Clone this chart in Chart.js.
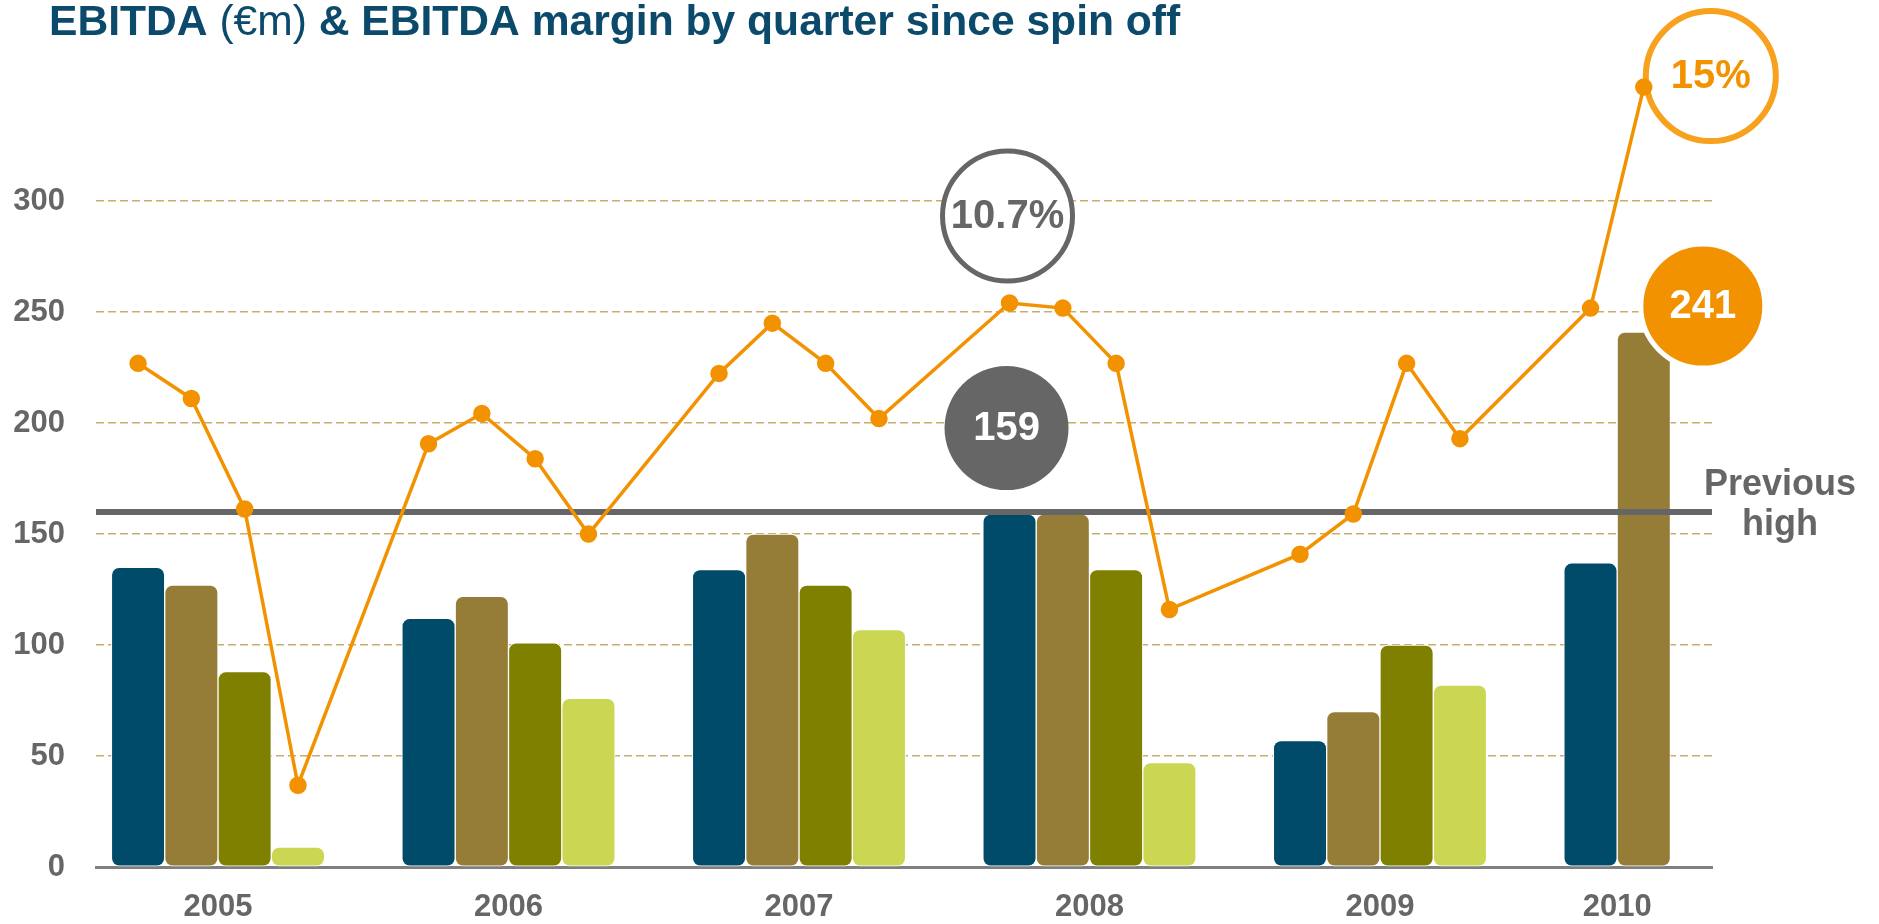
<!DOCTYPE html>
<html>
<head>
<meta charset="utf-8">
<title>EBITDA by quarter since spin off</title>
<script src="https://cdn.jsdelivr.net/npm/chart.js@4.4.0/dist/chart.umd.min.js"></script>
<style>
  html, body { margin: 0; padding: 0; background: #fff; }
  #wrap { width: 1879px; height: 924px; position: relative; }
</style>
</head>
<body>
<div id="wrap"><canvas id="canvas"></canvas></div>
<script>
// EBITDA (EUR m) per quarter, one array per quarter, one entry per year
var years = ['2005', '2006', '2007', '2008', '2009', '2010'];
var q1 = [135, 112, 134, 159, 57, 137];
var q2 = [127, 122, 150, 159, 70, 241];
var q3 = [88, 101, 127, 134, 100, null];
var q4 = [9, 76, 107, 47, 82, null];
// EBITDA margin (%) quarter by quarter since Q1 2005
var margin = [9.5, 8.8, 6.6, 1.1, 7.9, 8.5, 7.6, 6.1, 9.3, 10.3, 9.5, 8.4,
              10.7, 10.6, 9.5, 4.6, 5.7, 6.5, 9.5, 8.0, 10.6, 15];
var previousHigh = 160;
var yTicks = [0, 50, 100, 150, 200, 250, 300];

var quarters = [q1, q2, q3, q4];
var quarterColors = ['#004a6a', '#967d37', '#7f7f00', '#cbd653'];
var ORANGE = '#f39200';
var GREY = '#666666';
var FONT = 'Arial, "Liberation Sans", sans-serif';
var QUARTER_STEP = 0.1835; // part of a year on the x scale taken by one quarter bar

function barData(arr) {
    return arr.map(function (v, i) { return { x: i, y: v }; });
}

var marginPoints = margin.map(function (v, k) {
    var yi = Math.floor(k / 4), qi = k % 4;
    return { x: yi + (qi - 1.5) * QUARTER_STEP, y: v };
});

// year label sits under the middle of the bars that exist for that year
var yearCenters = years.map(function (y, i) {
    var n = quarters.filter(function (q) { return q[i] !== null; }).length;
    return i + ((n - 1) / 2 - 1.5) * QUARTER_STEP;
});

// which quarter was the best before the last year
var lastYear = years.length - 1;
var peakBar = { q: 0, i: 0, v: -1 };
for (var i = 0; i < lastYear; i++) {
    for (var q = 0; q < 4; q++) {
        if (quarters[q][i] > peakBar.v) peakBar = { q: q, i: i, v: quarters[q][i] };
    }
}
var peakMarginIdx = 0;
for (var k = 0; k < lastYear * 4; k++) {
    if (margin[k] > margin[peakMarginIdx]) peakMarginIdx = k;
}
var lastMarginIdx = margin.length - 1;
var lastBar = { q: 0, i: lastYear, v: 0 };
for (var q = 0; q < 4; q++) {
    if (quarters[q][lastYear] !== null) lastBar = { q: q, i: lastYear, v: quarters[q][lastYear] };
}

var datasets = [{
    type: 'line',
    label: 'EBITDA margin',
    data: marginPoints,
    yAxisID: 'y2',
    borderColor: ORANGE,
    backgroundColor: ORANGE,
    borderWidth: 3.5,
    pointRadius: 7,
    pointHoverRadius: 7,
    tension: 0
}];
quarters.forEach(function (arr, qi) {
    datasets.push({
        label: 'Q' + (qi + 1),
        data: barData(arr),
        backgroundColor: quarterColors[qi]
    });
});

function circle(ctx, x, y, r, fill, stroke, lw) {
    ctx.beginPath();
    ctx.arc(x, y, r, 0, Math.PI * 2);
    if (fill) { ctx.fillStyle = fill; ctx.fill(); }
    if (stroke) { ctx.lineWidth = lw; ctx.strokeStyle = stroke; ctx.stroke(); }
}

function label(ctx, text, x, y, color) {
    ctx.font = 'bold 40px ' + FONT;
    ctx.fillStyle = color;
    ctx.textAlign = 'center';
    ctx.textBaseline = 'middle';
    ctx.fillText(text, x, y + 1);
}

var overlays = {
    id: 'overlays',
    beforeDatasetsDraw: function (chart) {
        var ctx = chart.ctx;
        var line = chart.getDatasetMeta(0).data;
        ctx.save();
        // previous margin peak
        var p = line[peakMarginIdx];
        circle(ctx, p.x - 2, p.y - 87, 65, '#fff', GREY, 5);
        label(ctx, margin[peakMarginIdx] + '%', p.x - 2, p.y - 87, GREY);
        // previous EBITDA peak
        var b = chart.getDatasetMeta(1 + peakBar.q).data[peakBar.i];
        circle(ctx, b.x - 3, b.y - 86, 62, GREY);
        label(ctx, String(peakBar.v), b.x - 3, b.y - 86, '#fff');
        // latest margin
        var l = line[lastMarginIdx];
        circle(ctx, l.x + 67, l.y - 11, 65, '#fff', '#f7a11c', 6);
        label(ctx, margin[lastMarginIdx] + '%', l.x + 67, l.y - 11, ORANGE);
        ctx.restore();
    },
    beforeDatasetDraw: function (chart, args) {
        if (args.index !== 0) return;
        var ctx = chart.ctx, area = chart.chartArea;
        var y = chart.scales.y.getPixelForValue(previousHigh);
        ctx.save();
        ctx.strokeStyle = GREY;
        ctx.lineWidth = 6;
        ctx.beginPath();
        ctx.moveTo(area.left, y);
        ctx.lineTo(area.right, y);
        ctx.stroke();
        ctx.font = 'bold 36px ' + FONT;
        ctx.fillStyle = GREY;
        ctx.textAlign = 'center';
        ctx.textBaseline = 'alphabetic';
        ctx.fillText('Previous', area.right + 68, y - 17);
        ctx.fillText('high', area.right + 68, y + 23);
        ctx.restore();
    },
    afterDatasetsDraw: function (chart) {
        var ctx = chart.ctx;
        var b = chart.getDatasetMeta(1 + lastBar.q).data[lastBar.i];
        ctx.save();
        circle(ctx, b.x + 59, b.y - 26, 62, ORANGE, '#fff', 5);
        label(ctx, String(lastBar.v), b.x + 59, b.y - 26, '#fff');
        ctx.restore();
    },
    afterDraw: function (chart) {
        var ctx = chart.ctx;
        var x = 49, y = 35;
        var parts = [['bold', 'EBITDA '], ['normal', '(\u20acm)'], ['bold', ' & EBITDA margin by quarter since spin off']];
        ctx.save();
        ctx.fillStyle = '#0b4a6a';
        ctx.textAlign = 'left';
        ctx.textBaseline = 'alphabetic';
        parts.forEach(function (p) {
            ctx.font = p[0] + ' 42.6px ' + FONT;
            ctx.fillText(p[1], x, y);
            x += ctx.measureText(p[1]).width;
        });
        ctx.restore();
    }
};

var config = {
    type: 'bar',
    data: { datasets: datasets },
    plugins: [overlays],
    options: {
        responsive: true,
        maintainAspectRatio: false,
        animation: false,
        layout: { padding: { left: 0, right: 167, top: 68, bottom: 0 } },
        datasets: {
            bar: {
                barThickness: 53.3,
                borderRadius: 8,
                borderSkipped: false,
                borderWidth: 1,
                borderColor: '#ffffff'
            }
        },
        plugins: {
            legend: { display: false },
            tooltip: { enabled: false }
        },
        scales: {
            x: {
                type: 'linear',
                min: -0.42,
                max: 5.143,
                offset: false,
                grid: { display: true, offset: false, drawOnChartArea: false, drawTicks: false, color: 'rgba(0,0,0,0)' },
                border: { display: true, color: '#808080', width: 3 },
                afterBuildTicks: function (scale) {
                    scale.ticks = yearCenters.map(function (v) { return { value: v }; });
                },
                afterFit: function (scale) { scale.height = 57; },
                ticks: {
                    autoSkip: false,
                    maxRotation: 0,
                    padding: 22,
                    color: GREY,
                    font: { family: FONT, size: 31, weight: 'bold' },
                    callback: function (value) { return years[Math.round(value)]; }
                }
            },
            y: {
                min: 0,
                max: 360,
                afterBuildTicks: function (scale) {
                    scale.ticks = yTicks.map(function (v) { return { value: v }; });
                },
                afterFit: function (scale) { scale.width = 96; },
                grid: {
                    drawTicks: false,
                    lineWidth: 1.5,
                    color: function (ctx) {
                        return ctx.tick && ctx.tick.value === 0 ? 'rgba(0,0,0,0)' : '#c8ad6a';
                    }
                },
                border: { display: false, dash: [8, 4] },
                ticks: {
                    padding: 31,
                    color: GREY,
                    font: { family: FONT, size: 31, weight: 'bold' }
                }
            },
            y2: {
                display: false,
                min: -0.528,
                max: 15.38,
                grid: { display: false }
            }
        }
    }
};

window.onload = function () {
    var ctx = document.getElementById('canvas').getContext('2d');
    window.myChart = new Chart(ctx, config);
};
</script>
</body>
</html>
